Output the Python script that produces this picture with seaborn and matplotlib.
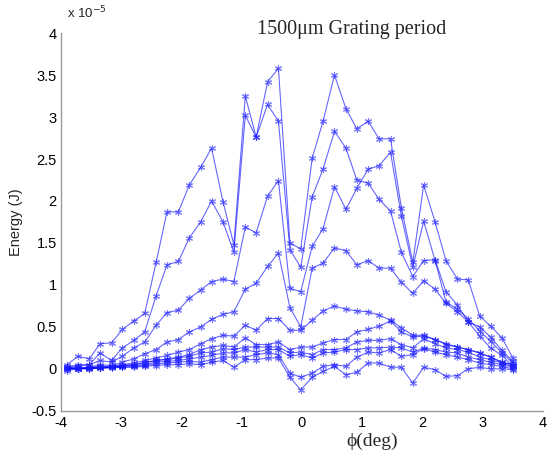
import numpy as np
import pandas as pd
import matplotlib
matplotlib.use("Agg")
import matplotlib.pyplot as plt
import seaborn as sns

# phi angle (deg)
phi = [-3.90, -3.72, -3.53, -3.35, -3.16, -2.98, -2.79, -2.61, -2.42, -2.24,
       -2.05, -1.87, -1.68, -1.50, -1.31, -1.13, -0.94, -0.76, -0.57, -0.39,
       -0.20, -0.02, 0.17, 0.35, 0.54, 0.73, 0.91, 1.10, 1.28, 1.47,
       1.65, 1.84, 2.02, 2.21, 2.39, 2.58, 2.76, 2.95, 3.13, 3.32, 3.50]

# energy curves, units of 1e-5 J
s1 = [0.05, 0.15, 0.12, 0.30, 0.31, 0.47, 0.57, 0.66, 1.27, 1.87, 1.87, 2.19, 2.40, 2.63, 1.99, 1.48,
      3.25, 2.76, 3.42, 3.58, 1.50, 1.43, 2.51, 2.95, 3.50, 3.10, 2.86, 2.95, 2.74, 2.74, 1.92, 1.27,
      2.19, 1.75, 1.29, 1.07, 1.06, 0.63, 0.51, 0.37, 0.13]
s2 = [0.02, 0.05, 0.05, 0.19, 0.10, 0.25, 0.34, 0.44, 0.87, 1.24, 1.28, 1.56, 1.75, 2.00, 1.75, 1.39,
      3.02, 2.76, 3.15, 2.95, 1.42, 1.21, 2.05, 2.38, 2.83, 2.63, 2.25, 2.21, 2.02, 1.88, 1.39, 1.10,
      1.29, 1.30, 0.92, 0.76, 0.56, 0.50, 0.38, 0.22, 0.09]
s3 = [0.02, 0.03, 0.05, 0.10, 0.08, 0.15, 0.25, 0.32, 0.52, 0.67, 0.70, 0.84, 0.94, 1.04, 1.07, 1.04,
      1.69, 1.62, 2.06, 2.24, 0.96, 0.92, 1.46, 1.67, 2.17, 1.90, 2.15, 2.38, 2.42, 2.58, 1.82, 1.21,
      1.76, 1.29, 0.80, 0.71, 0.60, 0.45, 0.33, 0.19, 0.07]
s4 = [0.02, 0.00, 0.02, 0.05, 0.04, 0.08, 0.12, 0.18, 0.23, 0.32, 0.35, 0.44, 0.50, 0.59, 0.65, 0.68,
      0.95, 1.02, 1.22, 1.38, 0.73, 0.50, 1.20, 1.26, 1.44, 1.41, 1.24, 1.29, 1.20, 1.20, 1.03, 0.90,
      1.05, 0.95, 0.78, 0.68, 0.56, 0.39, 0.25, 0.16, 0.03]
s5 = [0.00, 0.02, 0.01, 0.03, 0.03, 0.05, 0.07, 0.10, 0.13, 0.16, 0.20, 0.23, 0.30, 0.36, 0.40, 0.39,
      0.52, 0.46, 0.60, 0.60, 0.46, 0.46, 0.58, 0.69, 0.75, 0.71, 0.69, 0.68, 0.64, 0.58, 0.49, 0.40,
      0.40, 0.35, 0.30, 0.26, 0.23, 0.19, 0.14, 0.08, 0.05]
s6 = [0.00, 0.00, 0.02, 0.02, 0.03, 0.04, 0.05, 0.07, 0.10, 0.12, 0.14, 0.17, 0.23, 0.26, 0.28, 0.26,
      0.37, 0.29, 0.29, 0.32, 0.23, 0.26, 0.26, 0.31, 0.35, 0.35, 0.44, 0.47, 0.51, 0.57, 0.44, 0.38,
      0.39, 0.35, 0.29, 0.26, 0.23, 0.19, 0.14, 0.08, 0.05]
s7 = [0.02, 0.00, 0.01, 0.02, 0.02, 0.04, 0.05, 0.08, 0.10, 0.11, 0.13, 0.15, 0.19, 0.20, 0.24, 0.23,
      0.26, 0.26, 0.26, 0.26, 0.19, 0.20, 0.17, 0.23, 0.23, 0.25, 0.32, 0.34, 0.34, 0.36, 0.29, 0.25,
      0.36, 0.30, 0.25, 0.23, 0.20, 0.14, 0.11, 0.07, 0.03]
s8 = [0.00, 0.01, 0.00, 0.01, 0.02, 0.03, 0.04, 0.05, 0.08, 0.09, 0.10, 0.12, 0.14, 0.16, 0.19, 0.19,
      0.23, 0.20, 0.23, 0.23, 0.15, 0.17, 0.13, 0.19, 0.20, 0.23, 0.23, 0.25, 0.25, 0.26, 0.25, 0.20,
      0.25, 0.23, 0.20, 0.19, 0.14, 0.11, 0.08, 0.05, 0.02]
s9 = [0.01, 0.00, 0.01, 0.01, 0.02, 0.02, 0.03, 0.04, 0.06, 0.07, 0.08, 0.09, 0.08, 0.11, 0.14, 0.14,
      0.14, 0.17, 0.19, 0.17, -0.05, -0.10, -0.05, 0.03, 0.05, 0.03, 0.14, 0.20, 0.19, 0.23, 0.15, 0.17,
      0.24, 0.20, 0.17, 0.14, 0.11, 0.07, 0.05, 0.03, 0.00]
s10 = [-0.02, 0.00, 0.00, 0.01, 0.01, 0.02, 0.02, 0.03, 0.04, 0.05, 0.05, 0.06, 0.05, 0.08, 0.10, 0.02,
       0.11, 0.11, 0.13, 0.13, -0.10, -0.25, -0.10, -0.03, 0.03, -0.07, -0.04, 0.07, 0.07, 0.02, 0.02, -0.17,
       0.02, -0.01, -0.09, -0.08, 0.00, 0.02, 0.00, 0.00, -0.01]

curves = [s1, s2, s3, s4, s5, s6, s7, s8, s9, s10]

rows = []
for k, c in enumerate(curves):
    for p, e in zip(phi, c):
        rows.append({"phi": p, "energy": e, "run": k})
df = pd.DataFrame(rows)

sns.set_style("white")
plt.rcParams["axes.unicode_minus"] = False
fig = plt.figure(figsize=(5.49, 4.53), dpi=100)
ax = fig.add_axes([0.111, 0.093, 0.878, 0.834])

sns.lineplot(data=df, x="phi", y="energy", units="run", estimator=None,
             color="#0000ff", lw=0.8, alpha=0.6, marker=(6, 2, 0),
             markersize=5, markeredgewidth=0.8, markeredgecolor="#2020ff",
             ax=ax, legend=False)

ax.set_xlim(-4, 4)
ax.set_ylim(-0.5, 4)
ax.set_xticks(range(-4, 5))
ax.set_yticks(np.arange(-0.5, 4.01, 0.5))
ax.set_yticklabels(["-0.5", "0", "0.5", "1", "1.5", "2", "2.5", "3", "3.5", "4"])

for side in ["top", "right"]:
    ax.spines[side].set_visible(False)
for side in ["left", "bottom"]:
    ax.spines[side].set_color("#9a9a9a")
    ax.spines[side].set_linewidth(1.0)
ax.tick_params(direction="in", length=4, color="#9a9a9a", labelsize=10.5,
               labelcolor="black")
ax.tick_params(axis="x", pad=4)
ax.tick_params(axis="y", pad=3)
for lab in ax.get_xticklabels() + ax.get_yticklabels():
    lab.set_family(["Liberation Sans", "DejaVu Sans"])

ax.set_xlabel("")
ax.set_ylabel("Energy (J)", fontsize=10.5, family=["Liberation Sans", "DejaVu Sans"], labelpad=6)

fig.text(0.641, 0.934, "1500μm Grating period", fontsize=14.5, ha="center", va="center",
         family=["Liberation Serif", "DejaVu Serif"])
fig.text(0.678, 0.026, "ϕ(deg)", fontsize=14, ha="center", va="center",
         family=["Liberation Serif", "DejaVu Serif"])
fig.text(0.122, 0.972, "x 10$^{-5}$", fontsize=9.5, ha="left", va="center",
         family=["Liberation Sans", "DejaVu Sans"])

fig.savefig("out.png", dpi=100, facecolor="white")
